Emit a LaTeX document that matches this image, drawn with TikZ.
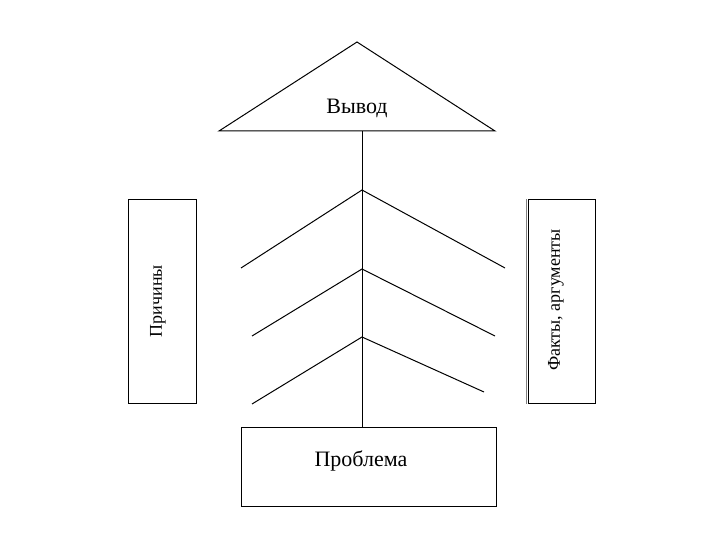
\documentclass[tikz,border=0pt]{standalone}
\usepackage{fontspec}
\setmainfont{Liberation Serif}
\begin{document}
\begin{tikzpicture}[x=1pt,y=-1pt,
  ln/.style={draw=black,line width=1pt},
  bigtext/.style={font=\fontsize{22}{26}\selectfont,inner sep=0pt},
  sidetext/.style={font=\fontsize{18}{22}\selectfont,inner sep=0pt,rotate=90}]
\useasboundingbox (0,0) rectangle (720,540);
% conclusion triangle
\coordinate (apex) at (357,42);
\coordinate (tl) at (219,131);
\coordinate (tr) at (495,131);
\coordinate (tb) at (362,131);
\draw[ln,line join=miter] (tl) -- (apex) -- (tr) -- cycle;
\node[bigtext] (vyvod) at (357,108) {Вывод};
% problem box
\node[ln,minimum width=255pt,minimum height=79pt,inner sep=0pt] (problem) at (368.5,466.5) {};
\node[bigtext] (problemtext) at (361,461) {Проблема};
% spine
\coordinate (pb) at (362,427);
\draw[ln] (tb) -- (pb);
% chevrons
\coordinate (c1) at (362,190);
\coordinate (c1l) at (241,268);
\coordinate (c1r) at (505,268);
\coordinate (c2) at (362,269);
\coordinate (c2l) at (252,336);
\coordinate (c2r) at (495,336);
\coordinate (c3) at (362,337);
\coordinate (c3l) at (252,404);
\coordinate (c3r) at (484,392);
\draw[ln] (c1l) -- (c1) -- (c1r);
\draw[ln] (c2l) -- (c2) -- (c2r);
\draw[ln] (c3l) -- (c3) -- (c3r);
% side boxes
\node[ln,minimum width=68pt,minimum height=203pt,inner sep=0pt] (causes) at (162,301.5) {};
\node[sidetext] (causestext) at (158,301) {Причины};
\node[ln,minimum width=67pt,minimum height=203pt,inner sep=0pt] (facts) at (561.5,301.5) {};
\draw[gray,line width=1.2pt] ([xshift=-1pt]facts.north west) -- ([xshift=-1pt]facts.south west);
\node[sidetext] (factstext) at (556,300) {Факты, аргументы};
\end{tikzpicture}
\end{document}
